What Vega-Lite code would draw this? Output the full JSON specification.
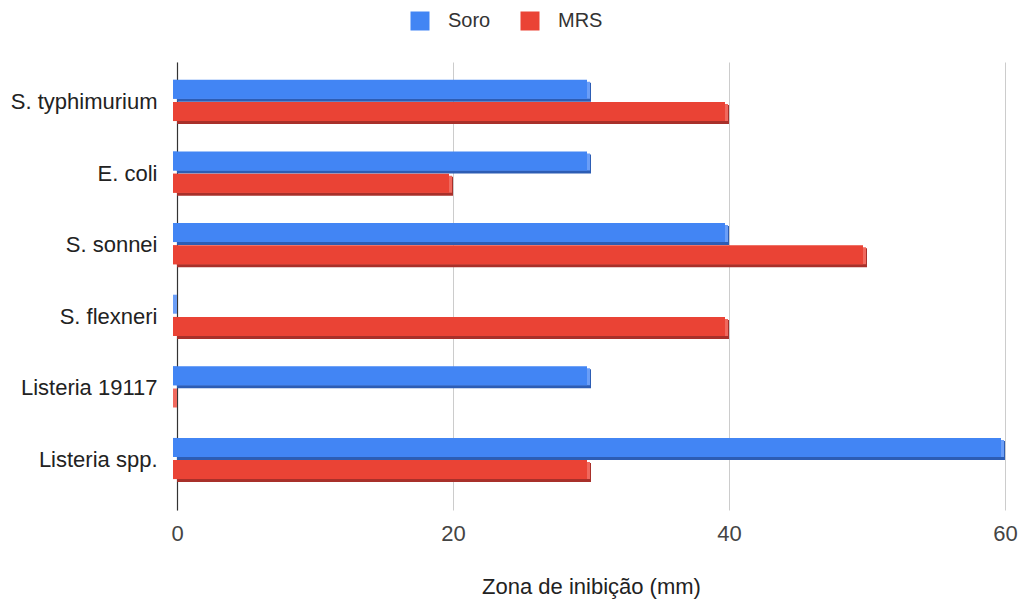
{
  "$schema": "https://vega.github.io/schema/vega-lite/v6.json",
  "width": 828,
  "height": 448,
  "autosize": "none",
  "padding": {"left": 177, "top": 62, "right": 19, "bottom": 97},
  "background": "white",
  "config": {"view": {"stroke": null}, "font": "Liberation Sans"},
  "data": {"values": [
    {"org": "S. typhimurium", "serie": "Soro", "v": 30},
    {"org": "S. typhimurium", "serie": "MRS", "v": 40},
    {"org": "E. coli", "serie": "Soro", "v": 30},
    {"org": "E. coli", "serie": "MRS", "v": 20},
    {"org": "S. sonnei", "serie": "Soro", "v": 40},
    {"org": "S. sonnei", "serie": "MRS", "v": 50},
    {"org": "S. flexneri", "serie": "Soro", "v": 0},
    {"org": "S. flexneri", "serie": "MRS", "v": 40},
    {"org": "Listeria 19117", "serie": "Soro", "v": 30},
    {"org": "Listeria 19117", "serie": "MRS", "v": 0},
    {"org": "Listeria spp.", "serie": "Soro", "v": 60},
    {"org": "Listeria spp.", "serie": "MRS", "v": 30}
  ]},
  "encoding": {
    "y": {"field": "org", "type": "nominal", "sort": ["S. typhimurium", "E. coli", "S. sonnei", "S. flexneri", "Listeria 19117", "Listeria spp."],
      "scale": {"paddingInner": 0.38, "paddingOuter": 0.318, "align": 0.39},
      "axis": {"title": null, "ticks": false, "labelFontSize": 22, "labelColor": "#222", "labelPadding": 20, "domainColor": "#333", "domainWidth": 1.2}},
    "x": {"field": "v", "type": "quantitative", "scale": {"domain": [0, 60]},
      "axis": {"title": "Zona de inibição (mm)", "titleFontSize": 22, "titleFontWeight": "normal", "titleColor": "#222", "titlePadding": 32,
        "values": [0, 20, 40, 60], "ticks": false, "domain": false, "labelFontSize": 22, "labelColor": "#444", "labelPadding": 13, "labelFlush": false,
        "gridColor": "#cccccc", "gridWidth": 1}}
  },
  "layer": [
    {
      "mark": {"type": "bar", "height": 19},
      "encoding": {
        "yOffset": {"field": "serie", "type": "nominal", "sort": ["Soro", "MRS"], "scale": {"range": [1.5, 45.9], "paddingInner": 0, "paddingOuter": 0}},
        "color": {"field": "serie", "type": "nominal", "legend": null,
        "scale": {"domain": ["Soro", "MRS"], "range": ["#2d5db4", "#a8302a"]}}}
    },
    {
      "mark": {"type": "bar", "height": 17, "xOffset": -1, "x2Offset": -1},
      "encoding": {
        "yOffset": {"field": "serie", "type": "nominal", "sort": ["Soro", "MRS"], "scale": {"range": [-0.5, 43.9], "paddingInner": 0, "paddingOuter": 0}},
        "color": {"field": "serie", "type": "nominal", "legend": null,
        "scale": {"domain": ["Soro", "MRS"], "range": ["#6b9ef7", "#f0695e"]}}}
    },
    {
      "mark": {"type": "tick", "orient": "vertical", "size": 19, "thickness": 4, "xOffset": -2, "opacity": 1},
      "encoding": {
        "x": {"datum": 0},
        "yOffset": {"field": "serie", "type": "nominal", "sort": ["Soro", "MRS"], "scale": {"range": [-1.5, 42.9], "paddingInner": 0, "paddingOuter": 0}},
        "color": {"field": "serie", "type": "nominal", "legend": null,
        "scale": {"domain": ["Soro", "MRS"], "range": ["#6b9ef7", "#f0695e"]}}}
    },
    {
      "mark": {"type": "bar", "height": 19, "xOffset": -4, "x2Offset": -4},
      "encoding": {
        "yOffset": {"field": "serie", "type": "nominal", "sort": ["Soro", "MRS"], "scale": {"range": [-1.5, 42.9], "paddingInner": 0, "paddingOuter": 0}},
        "color": {"field": "serie", "type": "nominal",
        "scale": {"domain": ["Soro", "MRS"], "range": ["#4285f4", "#ea4335"]},
        "legend": {"title": null, "orient": "none", "direction": "horizontal", "legendX": 233, "legendY": -51,
          "symbolType": "square", "symbolSize": 361, "symbolStrokeWidth": 0, "labelFontSize": 20, "labelColor": "#333", "columnPadding": 29, "labelOffset": 18}}}
    }
  ],
  "resolve": {"scale": {"color": "independent", "yOffset": "independent"}}
}
